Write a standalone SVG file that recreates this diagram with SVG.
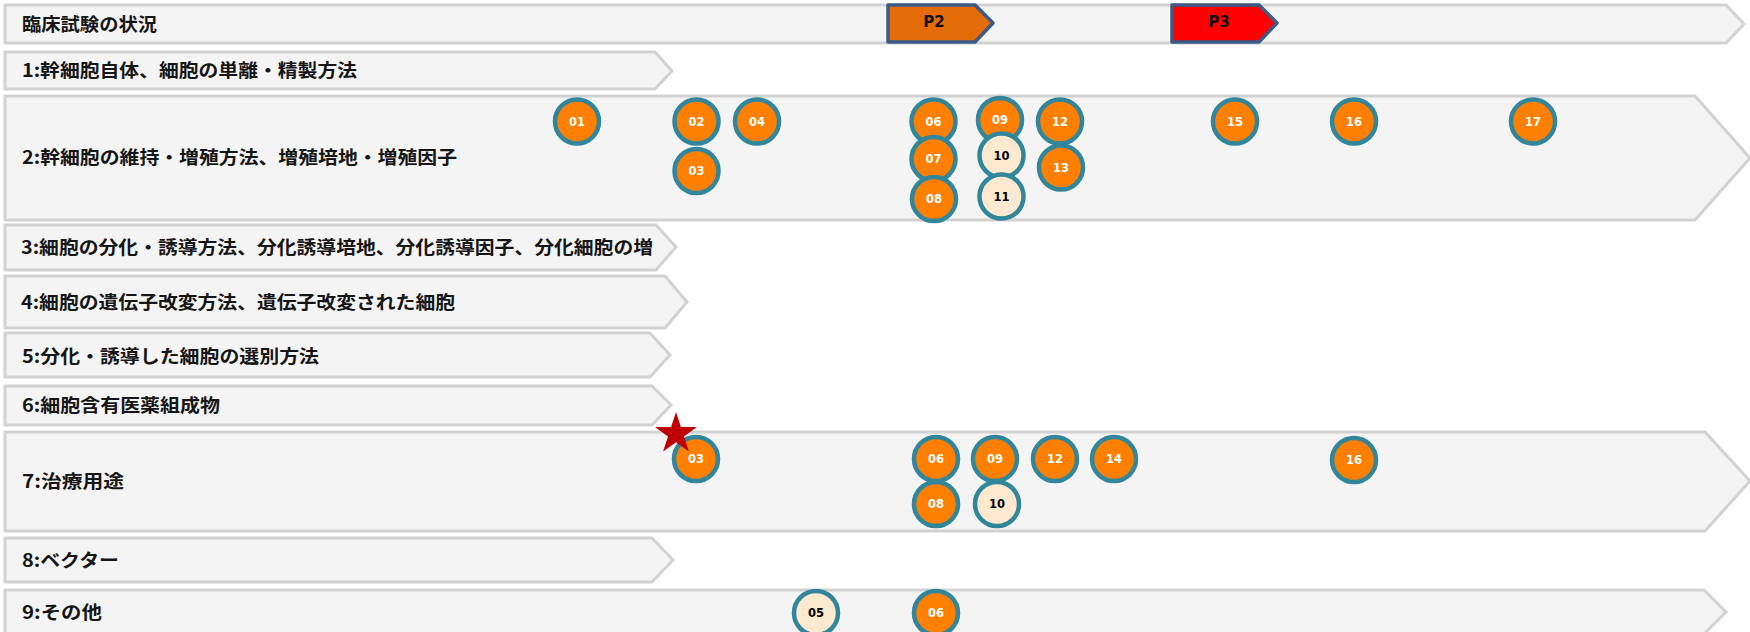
<svg xmlns="http://www.w3.org/2000/svg" width="1750" height="632" viewBox="0 0 1750 632">
<defs>
<style>
.band{fill:#f4f4f4;stroke:#d2d2d2;stroke-width:3;stroke-linejoin:miter}
.lbl{font-family:"Noto Sans CJK JP","Noto Sans",sans-serif;font-weight:bold;font-size:18px;fill:#161616;dominant-baseline:central}
.ph{stroke:#3b5a86;stroke-width:3.5;stroke-linejoin:round}
.phT{font-family:"DejaVu Sans","Liberation Sans",sans-serif;font-weight:bold;font-size:15px;fill:#111;text-anchor:middle;dominant-baseline:central}
.c{stroke:#31869c;stroke-width:4.5}
.co{fill:#ff8000}
.cl{fill:#fde9d0}
.n{font-family:"DejaVu Sans","Liberation Sans",sans-serif;font-weight:bold;font-size:11.5px;text-anchor:middle;dominant-baseline:central}
.nw{fill:#ffffff}
.nb{fill:#000000}
</style>
</defs>
<rect width="1750" height="632" fill="#ffffff"/>

<g id="row-header">
<polygon class="band" points="5,5 1726,5 1744,24 1726,43 5,43"/>
<text class="lbl" x="22" y="22.5" textLength="135" lengthAdjust="spacingAndGlyphs">臨床試験の状況</text>
</g>
<g id="phase-P2">
<polygon class="ph" fill="#e36c09" points="888,5 975,5 993,23 975,42 888,42"/>
<text class="phT" x="934" y="22">P2</text>
</g>
<g id="phase-P3">
<polygon class="ph" fill="#ff0000" points="1172,5 1259,5 1277,23 1259,42 1172,42"/>
<text class="phT" x="1219" y="22">P3</text>
</g>

<g id="row-1">
<polygon class="band" points="5,52 655,52 672,71 655,89 5,89"/>
<text class="lbl" x="22" y="69" textLength="335" lengthAdjust="spacingAndGlyphs">1:幹細胞自体、細胞の単離・精製方法</text>
</g>
<g id="row-2">
<polygon class="band" points="5,96 1695,96 1750,158 1695,220 5,220"/>
<text class="lbl" x="22" y="156" textLength="435" lengthAdjust="spacingAndGlyphs">2:幹細胞の維持・増殖方法、増殖培地・増殖因子</text>
</g>
<g id="row-3">
<polygon class="band" points="5,225 656,225 676,247 656,270 5,270"/>
<text class="lbl" x="21" y="245.5" textLength="632" lengthAdjust="spacingAndGlyphs">3:細胞の分化・誘導方法、分化誘導培地、分化誘導因子、分化細胞の増</text>
</g>
<g id="row-4">
<polygon class="band" points="5,276 665,276 687,302 665,328 5,328"/>
<text class="lbl" x="21" y="300.5" textLength="434" lengthAdjust="spacingAndGlyphs">4:細胞の遺伝子改変方法、遺伝子改変された細胞</text>
</g>
<g id="row-5">
<polygon class="band" points="5,333 650,333 670,355 650,377 5,377"/>
<text class="lbl" x="22" y="354.5" textLength="297" lengthAdjust="spacingAndGlyphs">5:分化・誘導した細胞の選別方法</text>
</g>
<g id="row-6">
<polygon class="band" points="5,386 652,386 671,405 652,425 5,425"/>
<text class="lbl" x="22" y="403.5" textLength="198" lengthAdjust="spacingAndGlyphs">6:細胞含有医薬組成物</text>
</g>
<g id="row-7">
<polygon class="band" points="5,432 1705,432 1750,481 1705,531 5,531"/>
<text class="lbl" x="22" y="479.5" textLength="102" lengthAdjust="spacingAndGlyphs">7:治療用途</text>
</g>
<g id="row-8">
<polygon class="band" points="5,538 652,538 673,560 652,582 5,582"/>
<text class="lbl" x="22" y="558.5" textLength="97" lengthAdjust="spacingAndGlyphs">8:ベクター</text>
</g>
<g id="row-9">
<polygon class="band" points="5,590 1704,590 1726,612 1704,634 5,634"/>
<text class="lbl" x="22" y="610.5" textLength="80" lengthAdjust="spacingAndGlyphs">9:その他</text>
</g>

<g id="connectors"/>

<!-- Row 2 items -->
<g id="r2-01"><circle class="c co" cx="577" cy="121.5" r="22"/><text class="n nw" x="577" y="121.5">01</text></g>
<g id="r2-02"><circle class="c co" cx="696.5" cy="121.5" r="22"/><text class="n nw" x="696.5" y="121.5">02</text></g>
<g id="r2-03"><circle class="c co" cx="696.5" cy="171" r="22"/><text class="n nw" x="696.5" y="171">03</text></g>
<g id="r2-04"><circle class="c co" cx="757" cy="121.5" r="22"/><text class="n nw" x="757" y="121.5">04</text></g>
<g id="r2-06"><circle class="c co" cx="933.5" cy="121.5" r="22"/><text class="n nw" x="933.5" y="121.5">06</text></g>
<g id="r2-07"><circle class="c co" cx="933.5" cy="159" r="22"/><text class="n nw" x="933.5" y="159">07</text></g>
<g id="r2-08"><circle class="c co" cx="934" cy="199" r="22"/><text class="n nw" x="934" y="199">08</text></g>
<g id="r2-09"><circle class="c co" cx="1000" cy="120" r="22"/><text class="n nw" x="1000" y="120">09</text></g>
<g id="r2-10"><circle class="c cl" cx="1001.5" cy="155.5" r="22"/><text class="n nb" x="1001.5" y="155.5">10</text></g>
<g id="r2-11"><circle class="c cl" cx="1001.5" cy="196.5" r="22"/><text class="n nb" x="1001.5" y="196.5">11</text></g>
<g id="r2-12"><circle class="c co" cx="1060" cy="121.5" r="22"/><text class="n nw" x="1060" y="121.5">12</text></g>
<g id="r2-13"><circle class="c co" cx="1061" cy="167.5" r="22"/><text class="n nw" x="1061" y="167.5">13</text></g>
<g id="r2-15"><circle class="c co" cx="1235" cy="121.5" r="22"/><text class="n nw" x="1235" y="121.5">15</text></g>
<g id="r2-16"><circle class="c co" cx="1354" cy="121.5" r="22"/><text class="n nw" x="1354" y="121.5">16</text></g>
<g id="r2-17"><circle class="c co" cx="1533" cy="121.5" r="22"/><text class="n nw" x="1533" y="121.5">17</text></g>

<!-- Row 7 items -->
<g id="r7-03"><circle class="c co" cx="696" cy="459" r="22"/><text class="n nw" x="696" y="459">03</text></g>
<g id="r7-06"><circle class="c co" cx="936" cy="459" r="22"/><text class="n nw" x="936" y="459">06</text></g>
<g id="r7-08"><circle class="c co" cx="936" cy="504" r="22"/><text class="n nw" x="936" y="504">08</text></g>
<g id="r7-09"><circle class="c co" cx="995" cy="459" r="22"/><text class="n nw" x="995" y="459">09</text></g>
<g id="r7-10"><circle class="c cl" cx="997" cy="504" r="22"/><text class="n nb" x="997" y="504">10</text></g>
<g id="r7-12"><circle class="c co" cx="1055" cy="459" r="22"/><text class="n nw" x="1055" y="459">12</text></g>
<g id="r7-14"><circle class="c co" cx="1114" cy="459" r="22"/><text class="n nw" x="1114" y="459">14</text></g>
<g id="r7-16"><circle class="c co" cx="1354" cy="460" r="22"/><text class="n nw" x="1354" y="460">16</text></g>
<g id="star"><polygon fill="#c00000" points="676,412 680.9,427 696.9,427 684,436.4 688.9,451.6 676,442.2 663.1,451.6 668,436.4 655.1,427 671.1,427"/></g>

<!-- Row 9 items -->
<g id="r9-05"><circle class="c cl" cx="816" cy="613" r="22"/><text class="n nb" x="816" y="613">05</text></g>
<g id="r9-06"><circle class="c co" cx="936" cy="613" r="22"/><text class="n nw" x="936" y="613">06</text></g>
</svg>
